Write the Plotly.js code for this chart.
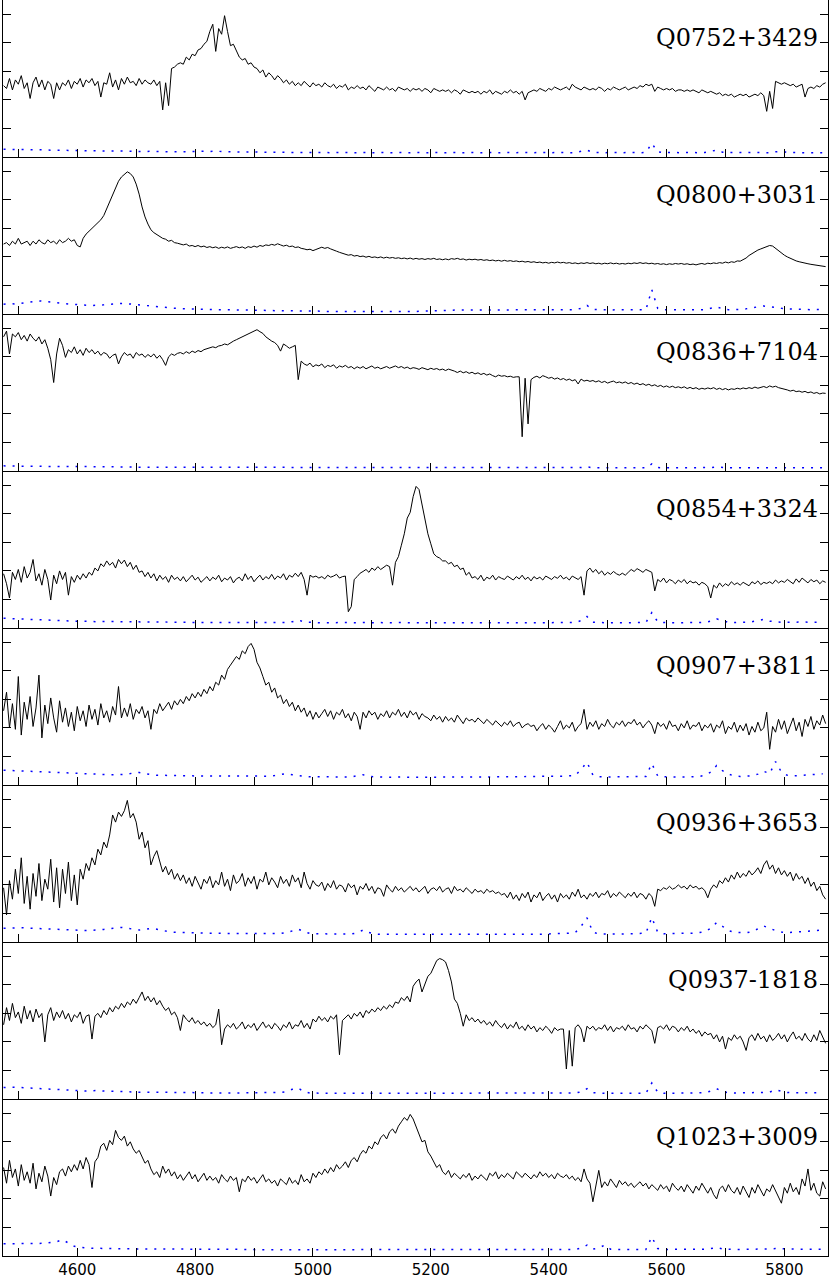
<!DOCTYPE html>
<html>
<head>
<meta charset="utf-8">
<script src="https://cdn.plot.ly/plotly-3.0.1.min.js"></script>
<style>html,body{margin:0;padding:0;background:#fff}</style>
</head>
<body>
<div id="chart" style="width:830px;height:1278px"></div>
<script>
// quasar names, top panel first
var names = ["Q0752+3429", "Q0800+3031", "Q0836+7104", "Q0854+3324",
             "Q0907+3811", "Q0936+3653", "Q0937-1818", "Q1023+3009"];

// flux sampled every 5 A from 4475 A, error spectrum every 10 A
var fluxStart = 4475, fluxStep = 5;
var errStart = 4475, errStep = 10;
var tickWaves = [4600, 4800, 5000, 5200, 5400, 5600, 5800];

var flux0752 = [
 2.50,2.40,2.75,2.35,2.70,2.55,2.85,2.40,2.60,2.05,
 2.60,2.80,2.45,2.70,2.35,2.65,2.55,2.05,2.60,2.35,
 2.60,2.50,2.70,2.40,2.65,2.55,2.75,2.45,2.70,2.60,
 2.75,2.50,2.65,2.10,2.60,2.55,2.95,2.45,2.70,2.35,
 2.75,2.55,2.80,2.60,2.65,2.50,2.75,2.55,2.70,2.60,
 2.55,2.70,2.50,2.65,1.65,2.60,1.80,3.10,3.15,3.25,
 3.30,3.25,3.50,3.40,3.60,3.55,3.75,3.80,3.95,4.05,
 4.40,4.65,3.70,4.50,4.30,4.95,4.40,3.90,3.95,3.70,
 3.50,3.40,3.45,3.25,3.30,3.15,3.10,2.95,3.05,2.80,
 2.95,2.85,2.70,2.85,2.75,2.60,2.70,2.55,2.65,2.50,
 2.60,2.50,2.65,2.55,2.45,2.60,2.50,2.55,2.45,2.60,
 2.50,2.45,2.55,2.40,2.50,2.45,2.55,2.35,2.45,2.40,
 2.50,2.40,2.45,2.35,2.50,2.40,2.30,2.45,2.40,2.35,
 2.45,2.35,2.40,2.30,2.45,2.40,2.35,2.40,2.30,2.40,
 2.35,2.40,2.30,2.40,2.35,2.25,2.40,2.35,2.30,2.35,
 2.30,2.35,2.25,2.35,2.30,2.20,2.35,2.30,2.25,2.30,
 2.25,2.30,2.20,2.30,2.25,2.35,2.20,2.30,2.25,2.20,
 2.30,2.25,2.35,2.25,2.30,2.20,2.30,2.00,2.25,2.30,
 2.35,2.30,2.40,2.35,2.30,2.40,2.35,2.45,2.40,2.35,
 2.40,2.45,2.35,2.55,2.45,2.40,2.35,2.45,2.40,2.35,
 2.40,2.35,2.45,2.40,2.30,2.40,2.35,2.45,2.40,2.35,
 2.40,2.45,2.35,2.40,2.45,2.40,2.50,2.45,2.55,2.50,
 2.55,2.30,2.45,2.40,2.35,2.40,2.35,2.40,2.30,2.35,
 2.35,2.30,2.35,2.30,2.35,2.30,2.25,2.35,2.30,2.25,
 2.30,2.25,2.20,2.25,2.15,2.20,2.15,2.20,2.10,2.15,
 2.20,2.15,2.20,2.10,2.15,2.20,2.15,2.25,2.15,1.60,
 2.30,1.70,2.65,2.60,2.55,2.60,2.55,2.50,2.55,2.45,
 2.50,2.55,2.10,2.40,2.45,2.40,2.50,2.45,2.55,2.60];

var flux0800 = [
 2.45,2.50,2.40,2.55,2.45,2.65,2.45,2.50,2.55,2.40,
 2.55,2.45,2.60,2.50,2.45,2.60,2.50,2.55,2.45,2.60,
 2.50,2.55,2.65,2.55,2.60,2.40,2.35,2.65,2.80,2.90,
 3.00,3.10,3.20,3.30,3.45,3.70,3.95,4.15,4.40,4.65,
 4.80,4.90,4.98,4.92,4.80,4.55,4.20,3.75,3.40,3.15,
 2.95,2.85,2.78,2.70,2.65,2.62,2.55,2.58,2.50,2.48,
 2.45,2.42,2.45,2.38,2.40,2.36,2.40,2.35,2.38,2.33,
 2.36,2.32,2.35,2.30,2.34,2.31,2.35,2.30,2.33,2.36,
 2.32,2.35,2.30,2.36,2.33,2.38,2.34,2.40,2.37,2.42,
 2.40,2.44,2.41,2.46,2.42,2.38,2.41,2.36,2.38,2.33,
 2.35,2.30,2.28,2.25,2.27,2.22,2.26,2.30,2.34,2.30,
 2.33,2.28,2.25,2.20,2.16,2.12,2.09,2.06,2.08,2.03,
 2.05,2.01,2.03,1.99,2.02,1.98,2.00,1.97,2.00,1.96,
 1.99,1.96,1.98,1.95,1.97,1.94,1.96,1.93,1.96,1.92,
 1.95,1.92,1.94,1.91,1.94,1.92,1.95,1.91,1.93,1.90,
 1.93,1.90,1.94,1.92,1.95,1.91,1.93,1.89,1.92,1.90,
 1.92,1.89,1.91,1.88,1.90,1.87,1.89,1.86,1.88,1.85,
 1.88,1.85,1.87,1.84,1.86,1.83,1.85,1.82,1.84,1.81,
 1.83,1.80,1.82,1.79,1.81,1.78,1.81,1.79,1.82,1.79,
 1.81,1.78,1.80,1.77,1.79,1.76,1.79,1.77,1.80,1.77,
 1.79,1.76,1.78,1.75,1.78,1.76,1.79,1.76,1.78,1.75,
 1.77,1.75,1.78,1.76,1.79,1.77,1.80,1.77,1.79,1.76,
 1.78,1.75,1.77,1.74,1.76,1.73,1.76,1.74,1.77,1.75,
 1.77,1.74,1.76,1.73,1.75,1.72,1.75,1.77,1.74,1.78,
 1.76,1.79,1.77,1.80,1.78,1.82,1.79,1.83,1.81,1.86,
 1.85,1.90,1.96,2.05,2.12,2.18,2.24,2.28,2.32,2.36,
 2.40,2.38,2.30,2.22,2.12,2.06,2.00,1.95,1.90,1.86,
 1.83,1.80,1.78,1.76,1.74,1.72,1.70,1.69,1.67,1.66];

var flux0836 = [
 4.70,4.90,4.10,4.80,4.70,4.85,4.60,4.75,4.55,4.80,
 4.65,4.55,4.70,4.45,4.60,4.30,3.90,3.10,4.10,4.65,
 4.40,3.98,4.25,4.15,4.35,4.10,4.25,4.05,4.30,4.15,
 4.25,4.10,4.20,4.05,4.15,4.10,3.95,4.05,4.10,3.75,
 4.00,4.15,4.05,4.10,3.95,4.15,4.05,4.10,3.98,4.08,
 4.00,4.10,3.95,4.05,3.90,3.70,4.00,4.10,4.05,4.12,
 4.15,4.10,4.18,4.12,4.20,4.15,4.22,4.18,4.25,4.28,
 4.30,4.35,4.32,4.38,4.40,4.45,4.42,4.50,4.55,4.60,
 4.65,4.70,4.75,4.80,4.85,4.90,4.95,4.88,4.82,4.70,
 4.62,4.55,4.50,4.40,4.20,4.45,4.38,4.30,4.35,4.40,
 3.20,3.85,3.75,3.70,3.78,3.65,3.72,3.68,3.75,3.62,
 3.70,3.66,3.72,3.60,3.68,3.64,3.70,3.62,3.66,3.58,
 3.65,3.60,3.66,3.58,3.63,3.68,3.60,3.64,3.58,3.62,
 3.66,3.60,3.64,3.68,3.62,3.66,3.60,3.64,3.58,3.62,
 3.60,3.56,3.62,3.58,3.55,3.60,3.56,3.59,3.54,3.57,
 3.52,3.57,3.54,3.50,3.45,3.50,3.44,3.48,3.42,3.46,
 3.40,3.44,3.38,3.42,3.36,3.40,3.34,3.30,3.36,3.32,
 3.34,3.30,3.32,3.28,3.30,3.30,1.20,3.25,1.65,3.20,
 3.28,3.32,3.26,3.34,3.30,3.25,3.28,3.22,3.26,3.20,
 3.24,3.18,3.22,3.16,3.20,3.05,3.22,3.15,3.18,3.14,
 3.17,3.12,3.16,3.10,3.14,3.08,3.12,3.15,3.09,3.12,
 3.08,3.12,3.06,3.10,3.04,3.08,3.02,3.06,3.00,3.04,
 2.98,3.02,2.96,3.00,2.94,2.98,2.93,2.97,2.92,2.95,
 2.91,2.95,2.89,2.93,2.88,2.92,2.86,2.90,2.87,2.91,
 2.88,2.92,2.86,2.90,2.85,2.89,2.84,2.88,2.86,2.90,
 2.87,2.91,2.88,2.92,2.89,2.94,2.90,2.93,2.96,2.92,
 2.98,2.94,2.97,2.92,2.90,2.86,2.84,2.80,2.83,2.78,
 2.80,2.76,2.79,2.74,2.77,2.72,2.75,2.70,2.73,2.72];

var flux0854 = [
 1.90,1.55,1.05,1.95,1.70,2.05,1.60,2.15,1.75,1.95,
 2.40,1.65,1.90,1.50,2.05,1.70,0.98,1.85,1.55,2.00,
 1.70,1.95,1.15,1.80,1.60,1.85,1.70,1.90,1.75,1.95,
 1.85,2.10,2.00,2.25,2.15,2.35,2.20,2.30,2.10,2.40,
 2.25,2.38,2.15,2.30,2.05,2.20,1.95,2.00,1.80,1.95,
 1.75,1.90,1.65,1.85,1.70,1.80,1.60,1.85,1.70,1.78,
 1.65,1.80,1.62,1.75,1.85,1.68,1.78,1.60,1.72,1.80,
 1.65,1.78,1.70,1.85,1.62,1.75,1.68,1.80,1.58,1.72,
 1.78,1.65,1.90,1.70,1.82,1.62,1.75,1.85,1.68,1.80,
 1.72,1.88,1.70,1.82,1.75,1.90,1.68,1.85,1.78,1.92,
 1.80,1.95,1.70,1.15,1.85,1.78,1.82,1.75,1.80,1.72,
 1.85,1.78,1.82,1.88,1.75,1.80,1.82,0.57,0.75,1.70,
 1.80,1.92,1.98,2.05,1.95,2.10,2.02,2.15,2.05,2.12,
 2.20,2.15,1.50,2.30,2.50,2.90,3.30,3.85,4.05,4.60,
 4.96,4.85,4.30,3.75,3.30,2.95,2.60,2.50,2.45,2.35,
 2.35,2.25,2.30,2.15,2.20,2.05,2.10,1.85,1.95,1.75,
 1.80,1.70,1.85,1.65,1.78,1.72,1.85,1.68,1.80,1.74,
 1.70,1.82,1.75,1.68,1.80,1.72,1.85,1.70,1.78,1.65,
 1.80,1.72,1.78,1.68,1.82,1.75,1.70,1.80,1.74,1.85,
 1.72,1.78,1.68,1.82,1.75,1.70,1.80,1.15,2.00,2.10,
 1.95,2.05,1.90,2.00,1.85,1.95,1.88,1.98,1.90,1.85,
 1.92,1.85,1.95,2.05,1.98,2.08,2.02,1.95,2.05,2.00,
 1.95,1.30,1.70,1.62,1.75,1.58,1.70,1.65,1.55,1.68,
 1.60,1.70,1.55,1.65,1.58,1.62,1.50,1.60,1.55,1.45,
 1.05,1.50,1.40,1.58,1.45,1.55,1.48,1.62,1.52,1.58,
 1.50,1.60,1.55,1.48,1.62,1.55,1.65,1.52,1.60,1.56,
 1.62,1.55,1.68,1.58,1.65,1.60,1.70,1.62,1.55,1.72,
 1.60,1.75,1.65,1.58,1.70,1.62,1.68,1.55,1.65,1.60];

var flux0907 = [
 2.60,3.25,2.00,2.85,1.95,3.80,1.75,2.90,2.30,3.10,
 2.05,2.70,3.85,1.65,2.80,2.15,3.05,2.35,1.85,2.95,
 2.20,2.70,2.05,2.55,1.90,2.75,2.25,2.60,2.05,2.80,
 2.30,2.65,2.10,2.85,2.35,2.60,2.20,2.75,2.45,3.45,
 2.35,2.70,2.40,2.85,2.30,2.65,2.50,2.75,2.35,2.60,
 1.95,2.65,2.50,2.85,2.60,2.75,2.90,2.65,2.95,2.80,
 3.00,2.85,3.10,2.95,3.20,3.05,3.25,3.10,3.35,3.20,
 3.45,3.30,3.60,3.50,3.85,3.70,4.05,4.20,4.35,4.50,
 4.40,4.70,4.60,4.85,4.96,4.75,4.30,4.10,3.80,3.50,
 3.60,3.25,3.40,3.05,3.15,2.85,3.00,2.75,2.90,2.60,
 2.80,2.55,2.70,2.40,2.60,2.30,2.55,2.35,2.50,2.65,
 2.40,2.60,2.30,2.55,2.45,2.65,2.35,2.50,2.25,2.55,
 2.40,1.95,2.55,2.35,2.60,2.45,2.55,2.30,2.50,2.40,
 2.60,2.35,2.55,2.45,2.65,2.40,2.55,2.35,2.60,2.45,
 2.55,2.30,2.50,2.40,2.35,2.25,2.45,2.30,2.40,2.20,
 2.40,2.25,2.35,2.20,2.45,2.30,2.15,2.35,2.25,2.30,
 2.20,2.35,2.25,2.15,2.30,2.20,2.10,2.25,2.15,2.05,
 2.20,2.10,2.25,2.05,2.15,2.20,2.00,2.10,2.15,2.05,
 2.10,1.90,2.05,2.15,1.95,2.10,2.00,1.85,2.05,2.25,
 1.95,2.10,2.00,2.20,1.88,2.05,2.15,2.65,1.95,2.20,
 2.05,2.25,1.95,2.15,2.05,2.30,2.10,2.00,2.20,2.10,
 2.25,2.05,2.20,2.15,2.30,2.10,2.20,2.00,2.15,2.25,
 2.10,1.80,2.20,2.05,2.15,1.95,2.25,2.05,2.10,1.90,
 2.15,2.00,2.25,1.95,2.10,2.05,2.20,1.90,2.10,2.00,
 2.15,1.85,2.10,2.00,2.25,1.80,2.05,1.95,2.20,1.85,
 2.10,1.90,2.15,1.75,2.05,1.85,2.20,1.90,2.00,2.55,
 1.25,2.05,1.85,2.30,1.95,2.25,1.80,2.10,2.35,1.90,
 2.20,1.70,2.30,2.05,2.40,1.95,2.25,2.10,2.45,2.15];

var flux0936 = [
 1.90,0.95,2.15,1.50,2.55,1.70,2.95,1.35,2.30,1.15,
 2.40,1.60,2.75,1.45,2.20,1.85,2.90,1.40,2.60,1.20,
 2.55,1.70,2.80,1.45,2.35,1.30,2.55,2.20,2.75,2.50,
 2.95,2.70,3.25,3.05,3.50,3.30,3.75,4.45,4.20,4.55,
 4.40,4.60,4.96,4.35,4.50,4.20,3.60,3.85,3.30,3.55,
 2.70,3.00,3.20,2.85,2.45,2.65,2.35,2.55,2.20,2.40,
 2.15,2.35,2.05,2.25,1.95,2.30,2.10,1.85,2.20,2.05,
 2.30,1.90,2.15,2.00,2.45,1.95,2.20,1.80,2.35,2.05,
 2.15,2.40,1.95,2.25,2.05,2.30,1.85,2.20,2.10,2.45,
 2.00,2.25,2.10,1.90,2.30,2.05,2.20,1.95,2.35,2.10,
 2.25,1.90,2.45,2.05,1.85,2.15,2.00,1.95,2.10,1.80,
 2.05,1.90,2.15,1.85,2.00,1.95,1.75,2.05,1.90,2.00,
 1.65,1.95,1.85,2.05,1.80,1.95,1.70,1.90,1.85,1.60,
 2.00,1.85,1.75,1.95,1.80,1.90,1.75,1.85,1.95,1.80,
 1.90,1.75,1.85,1.95,1.70,1.85,1.90,1.80,1.95,1.75,
 1.85,1.90,1.70,1.95,1.80,1.85,1.75,1.90,1.80,1.70,
 1.85,1.75,1.80,1.70,1.85,1.75,1.80,1.70,1.75,1.65,
 1.70,1.55,1.75,1.50,1.65,1.45,1.70,1.55,1.75,1.40,
 1.65,1.55,1.75,1.45,1.60,1.70,1.50,1.65,1.40,1.70,
 1.55,1.65,1.50,1.75,1.60,1.85,1.55,1.65,1.50,1.70,
 1.60,1.75,1.55,1.70,1.65,1.80,1.55,1.70,1.60,1.75,
 1.65,1.55,1.70,1.60,1.75,1.55,1.70,1.65,1.50,1.70,
 1.60,1.25,1.85,1.80,1.90,1.85,1.95,1.85,1.90,2.00,
 1.90,1.95,1.85,2.00,1.90,1.95,1.85,1.90,1.80,1.55,
 1.85,2.00,1.90,2.15,2.05,2.25,2.10,2.35,2.20,2.45,
 2.25,2.40,2.30,2.50,2.35,2.45,2.60,2.40,2.70,2.85,
 2.55,2.70,2.40,2.60,2.35,2.50,2.30,2.45,2.15,2.40,
 2.20,2.30,2.05,2.25,1.95,2.10,1.80,1.95,1.65,1.50];

var flux0937 = [
 2.60,3.20,2.75,3.35,2.85,3.05,2.65,3.25,2.80,3.10,
 2.70,3.15,2.85,3.00,2.00,2.95,3.20,2.75,3.05,2.85,
 3.10,2.80,3.00,2.70,2.95,2.85,3.05,2.65,2.90,2.95,
 2.10,2.90,3.00,2.85,3.10,2.95,3.20,3.05,3.25,3.15,
 3.35,3.20,3.40,3.30,3.50,3.35,3.55,3.75,3.45,3.60,
 3.40,3.55,3.30,3.45,3.25,3.10,3.20,2.95,3.05,2.85,
 2.40,2.95,2.80,2.70,2.85,2.65,2.75,2.60,2.70,2.55,
 2.65,2.50,2.60,3.15,1.90,2.45,2.60,2.50,2.65,2.45,
 2.55,2.70,2.45,2.60,2.50,2.65,2.40,2.55,2.70,2.50,
 2.60,2.45,2.65,2.55,2.40,2.60,2.50,2.70,2.45,2.60,
 2.55,2.75,2.50,2.65,2.45,2.80,2.70,2.90,2.75,2.85,
 2.70,2.90,2.80,2.95,1.55,2.75,2.85,2.95,2.80,3.00,
 2.90,3.05,2.85,3.10,3.00,3.15,3.05,3.20,3.10,3.25,
 3.15,3.30,3.20,3.40,3.35,3.55,3.45,3.60,3.40,3.95,
 4.10,4.20,3.75,4.00,4.30,4.40,4.60,4.85,4.92,4.88,
 4.80,4.50,4.10,3.50,3.35,3.00,2.55,2.95,2.75,2.85,
 2.70,2.80,2.65,2.75,2.60,2.70,2.55,2.75,2.60,2.50,
 2.65,2.45,2.60,2.50,2.70,2.45,2.55,2.40,2.60,2.45,
 2.55,2.35,2.50,2.40,2.55,2.45,2.30,2.50,2.40,2.45,
 2.45,1.05,2.40,1.15,2.50,2.60,2.45,2.00,2.55,2.45,
 2.55,2.40,2.50,2.45,2.60,2.40,2.55,2.35,2.50,2.45,
 2.55,2.40,2.60,2.45,2.50,2.35,2.55,2.45,2.60,2.50,
 2.40,1.95,2.50,2.55,2.45,2.60,2.40,2.55,2.50,2.35,
 2.50,2.40,2.55,2.35,2.45,2.30,2.40,2.20,2.35,2.25,
 2.30,2.10,2.25,2.00,2.20,1.75,2.15,2.05,2.25,2.10,
 2.20,2.00,1.70,2.15,2.25,2.05,2.30,2.10,2.20,2.00,
 2.25,2.05,2.15,2.30,2.10,2.25,2.00,2.20,2.35,2.10,
 2.20,2.05,2.30,2.10,2.00,2.25,2.05,2.40,2.15,1.95];

var flux1023 = [
 3.10,2.55,3.35,2.75,3.05,2.45,3.20,2.65,2.95,2.55,
 3.25,2.35,2.90,2.60,3.15,2.80,2.10,2.75,2.50,2.95,
 3.05,2.80,3.15,2.95,3.20,3.00,3.35,3.05,3.45,3.20,
 2.40,3.30,3.45,3.85,3.95,3.70,4.05,3.90,4.40,4.15,
 4.05,4.20,3.85,4.00,3.75,3.60,3.70,3.45,3.25,3.35,
 3.05,2.85,2.95,2.75,3.15,2.90,3.05,2.80,2.95,2.70,
 2.85,2.65,2.80,2.95,2.70,2.85,2.60,2.75,2.90,2.65,
 2.80,2.65,2.75,2.55,2.85,2.70,2.60,2.80,2.65,2.75,
 2.25,2.70,2.60,2.80,2.65,2.75,2.55,2.70,2.85,2.60,
 2.70,2.55,2.65,2.45,2.70,2.60,2.50,2.75,2.55,2.65,
 2.50,2.85,2.60,2.70,2.55,2.90,2.75,2.95,2.85,3.05,
 2.90,3.10,2.95,3.20,3.05,3.15,3.30,3.10,3.35,3.45,
 3.30,3.55,3.70,3.60,3.85,3.75,4.00,3.90,4.15,4.25,
 4.10,4.35,4.45,4.30,4.55,4.70,4.85,4.75,4.96,4.80,
 4.55,4.30,4.00,4.05,3.65,3.50,3.30,3.10,3.20,2.95,
 2.85,3.00,2.75,2.90,2.80,2.70,2.85,2.75,2.90,2.65,
 2.80,2.70,2.85,2.75,2.65,2.90,2.80,2.95,2.70,2.85,
 2.75,2.90,2.80,2.70,2.95,2.85,2.75,2.90,2.80,2.70,
 2.85,2.75,2.95,2.80,2.90,2.75,2.85,2.70,2.90,2.80,
 2.75,2.85,2.70,2.80,2.65,2.75,2.60,3.05,2.70,2.55,
 1.90,2.50,3.00,2.40,2.60,2.45,2.70,2.55,2.40,2.65,
 2.50,2.60,2.45,2.55,2.40,2.50,2.60,2.45,2.55,2.35,
 2.50,2.40,2.30,2.50,2.35,2.45,2.25,2.55,2.40,2.30,
 2.45,2.25,2.50,2.35,2.20,2.45,2.30,2.55,2.35,2.20,
 2.40,2.15,2.00,2.35,2.45,2.25,2.50,2.30,2.20,2.40,
 2.15,2.45,2.25,2.05,2.40,2.20,2.50,2.30,2.10,2.35,
 2.25,2.50,2.30,2.05,1.85,2.40,2.20,2.55,2.25,2.40,
 2.15,2.70,2.45,3.05,2.30,2.55,2.20,2.10,2.60,2.35];

var err0752 = [
 0.27,0.27,0.26,0.27,0.26,0.25,0.26,0.25,0.24,0.25,
 0.24,0.23,0.24,0.23,0.22,0.23,0.22,0.21,0.22,0.21,
 0.21,0.20,0.21,0.20,0.19,0.20,0.19,0.18,0.19,0.18,
 0.18,0.19,0.18,0.19,0.20,0.19,0.21,0.19,0.18,0.19,
 0.18,0.17,0.18,0.17,0.17,0.16,0.17,0.16,0.17,0.16,
 0.16,0.17,0.16,0.16,0.15,0.16,0.15,0.16,0.15,0.16,
 0.15,0.16,0.15,0.15,0.16,0.15,0.15,0.16,0.15,0.15,
 0.16,0.15,0.15,0.16,0.15,0.15,0.16,0.15,0.15,0.16,
 0.15,0.15,0.16,0.15,0.15,0.16,0.15,0.15,0.16,0.15,
 0.15,0.16,0.15,0.15,0.16,0.15,0.16,0.15,0.20,0.24,
 0.16,0.15,0.15,0.16,0.15,0.15,0.16,0.15,0.15,0.16,
 0.48,0.18,0.15,0.16,0.15,0.15,0.16,0.15,0.15,0.16,
 0.20,0.24,0.17,0.15,0.16,0.15,0.15,0.16,0.15,0.16,
 0.15,0.18,0.20,0.16,0.15,0.16,0.15,0.15,0.16,0.15];

var err0800 = [
 0.34,0.36,0.35,0.38,0.40,0.42,0.46,0.44,0.41,0.39,
 0.37,0.35,0.33,0.32,0.31,0.30,0.30,0.32,0.34,0.36,
 0.37,0.36,0.34,0.31,0.28,0.26,0.24,0.22,0.21,0.20,
 0.19,0.18,0.17,0.17,0.16,0.16,0.15,0.15,0.15,0.14,
 0.14,0.14,0.13,0.13,0.13,0.12,0.12,0.12,0.11,0.11,
 0.11,0.11,0.10,0.10,0.10,0.09,0.09,0.08,0.08,0.08,
 0.07,0.07,0.07,0.07,0.07,0.07,0.07,0.07,0.08,0.08,
 0.09,0.10,0.11,0.12,0.13,0.13,0.14,0.14,0.14,0.14,
 0.14,0.14,0.14,0.15,0.15,0.14,0.14,0.15,0.15,0.15,
 0.15,0.15,0.14,0.15,0.15,0.14,0.15,0.15,0.20,0.30,
 0.16,0.15,0.15,0.14,0.15,0.15,0.14,0.15,0.15,0.15,
 0.85,0.20,0.15,0.15,0.14,0.15,0.15,0.14,0.15,0.15,
 0.20,0.25,0.18,0.15,0.15,0.16,0.18,0.22,0.26,0.28,
 0.26,0.22,0.20,0.18,0.17,0.16,0.16,0.15,0.16,0.15];

var err0836 = [
 0.18,0.17,0.18,0.17,0.17,0.18,0.17,0.16,0.17,0.16,
 0.16,0.16,0.15,0.16,0.15,0.15,0.15,0.14,0.15,0.14,
 0.14,0.14,0.14,0.13,0.14,0.13,0.13,0.13,0.13,0.13,
 0.13,0.12,0.13,0.12,0.12,0.12,0.12,0.12,0.12,0.12,
 0.12,0.12,0.11,0.12,0.11,0.11,0.12,0.11,0.11,0.11,
 0.11,0.11,0.11,0.11,0.11,0.11,0.11,0.11,0.11,0.11,
 0.11,0.11,0.11,0.11,0.11,0.11,0.11,0.11,0.11,0.11,
 0.11,0.11,0.11,0.11,0.11,0.11,0.11,0.11,0.11,0.11,
 0.11,0.11,0.11,0.11,0.11,0.11,0.11,0.11,0.11,0.11,
 0.11,0.11,0.11,0.11,0.11,0.11,0.11,0.11,0.12,0.15,
 0.11,0.11,0.11,0.11,0.11,0.11,0.11,0.11,0.11,0.11,
 0.25,0.12,0.11,0.11,0.11,0.11,0.11,0.11,0.11,0.11,
 0.12,0.14,0.12,0.11,0.11,0.11,0.11,0.11,0.11,0.11,
 0.11,0.12,0.11,0.11,0.11,0.11,0.11,0.11,0.11,0.11];

var err0854 = [
 0.34,0.33,0.32,0.31,0.30,0.29,0.28,0.27,0.27,0.26,
 0.25,0.25,0.24,0.24,0.23,0.23,0.22,0.23,0.24,0.23,
 0.22,0.22,0.21,0.21,0.21,0.20,0.20,0.20,0.20,0.20,
 0.20,0.20,0.19,0.20,0.19,0.19,0.20,0.19,0.19,0.19,
 0.19,0.19,0.19,0.18,0.19,0.19,0.18,0.19,0.19,0.22,
 0.28,0.21,0.19,0.19,0.18,0.19,0.18,0.19,0.19,0.18,
 0.18,0.19,0.18,0.18,0.19,0.18,0.18,0.19,0.18,0.18,
 0.18,0.18,0.19,0.18,0.18,0.18,0.19,0.18,0.18,0.18,
 0.18,0.19,0.18,0.18,0.18,0.19,0.18,0.18,0.19,0.18,
 0.18,0.18,0.19,0.18,0.18,0.19,0.18,0.19,0.26,0.40,
 0.20,0.19,0.18,0.18,0.19,0.18,0.18,0.19,0.18,0.19,
 0.54,0.22,0.19,0.18,0.19,0.18,0.19,0.18,0.19,0.20,
 0.24,0.32,0.25,0.20,0.19,0.19,0.20,0.22,0.26,0.30,
 0.24,0.21,0.20,0.20,0.21,0.20,0.21,0.20,0.21,0.21];

var err0907 = [
 0.52,0.51,0.50,0.49,0.48,0.47,0.46,0.45,0.44,0.43,
 0.42,0.41,0.40,0.39,0.38,0.38,0.37,0.37,0.36,0.36,
 0.36,0.38,0.42,0.44,0.40,0.36,0.34,0.34,0.33,0.33,
 0.33,0.32,0.32,0.32,0.32,0.31,0.31,0.31,0.31,0.31,
 0.31,0.30,0.30,0.30,0.30,0.31,0.33,0.36,0.40,0.36,
 0.32,0.30,0.29,0.29,0.29,0.28,0.29,0.28,0.29,0.28,
 0.33,0.36,0.30,0.28,0.28,0.27,0.28,0.27,0.28,0.27,
 0.27,0.28,0.27,0.27,0.28,0.27,0.27,0.28,0.27,0.27,
 0.28,0.27,0.27,0.28,0.27,0.28,0.28,0.29,0.29,0.30,
 0.30,0.29,0.30,0.30,0.31,0.31,0.32,0.33,0.55,0.80,
 0.35,0.29,0.28,0.28,0.28,0.28,0.28,0.28,0.29,0.30,
 0.75,0.32,0.29,0.28,0.28,0.28,0.28,0.29,0.30,0.34,
 0.45,0.68,0.50,0.38,0.32,0.30,0.30,0.32,0.38,0.48,
 0.40,0.82,0.45,0.34,0.32,0.33,0.34,0.35,0.37,0.39];

var err0936 = [
 0.48,0.49,0.50,0.50,0.49,0.48,0.47,0.46,0.44,0.43,
 0.42,0.41,0.40,0.40,0.40,0.41,0.42,0.44,0.47,0.50,
 0.51,0.48,0.45,0.42,0.44,0.48,0.45,0.40,0.36,0.34,
 0.33,0.32,0.32,0.31,0.31,0.31,0.30,0.30,0.30,0.30,
 0.30,0.30,0.29,0.29,0.29,0.29,0.29,0.30,0.33,0.40,
 0.45,0.36,0.30,0.29,0.28,0.28,0.28,0.28,0.28,0.28,
 0.32,0.42,0.33,0.28,0.27,0.27,0.27,0.26,0.26,0.26,
 0.26,0.26,0.25,0.25,0.25,0.25,0.25,0.25,0.25,0.25,
 0.25,0.25,0.25,0.25,0.25,0.25,0.25,0.26,0.26,0.27,
 0.27,0.27,0.28,0.28,0.29,0.30,0.31,0.33,0.55,0.85,
 0.35,0.28,0.28,0.27,0.28,0.28,0.29,0.29,0.30,0.31,
 0.86,0.34,0.29,0.29,0.29,0.30,0.30,0.31,0.33,0.36,
 0.48,0.68,0.55,0.40,0.34,0.32,0.32,0.36,0.45,0.56,
 0.48,0.40,0.35,0.33,0.34,0.35,0.36,0.38,0.40,0.43];

var err0937 = [
 0.40,0.42,0.41,0.40,0.38,0.37,0.36,0.34,0.33,0.32,
 0.31,0.30,0.29,0.28,0.28,0.29,0.30,0.28,0.27,0.26,
 0.26,0.25,0.25,0.24,0.24,0.24,0.23,0.23,0.23,0.22,
 0.22,0.22,0.22,0.22,0.22,0.21,0.22,0.21,0.21,0.21,
 0.21,0.21,0.21,0.21,0.21,0.21,0.22,0.23,0.26,0.34,
 0.38,0.25,0.21,0.20,0.20,0.20,0.20,0.20,0.20,0.20,
 0.20,0.20,0.20,0.20,0.20,0.20,0.20,0.20,0.20,0.20,
 0.20,0.20,0.20,0.20,0.20,0.20,0.20,0.20,0.20,0.20,
 0.20,0.20,0.20,0.20,0.20,0.20,0.20,0.20,0.20,0.20,
 0.20,0.20,0.20,0.20,0.20,0.20,0.20,0.21,0.25,0.36,
 0.22,0.20,0.20,0.20,0.20,0.20,0.20,0.20,0.20,0.20,
 0.56,0.24,0.20,0.20,0.20,0.20,0.20,0.20,0.21,0.22,
 0.28,0.36,0.26,0.22,0.21,0.21,0.21,0.22,0.22,0.23,
 0.24,0.32,0.27,0.23,0.22,0.22,0.22,0.22,0.22,0.22];

var err1023 = [
 0.43,0.43,0.42,0.43,0.42,0.43,0.44,0.45,0.47,0.50,
 0.57,0.45,0.34,0.30,0.28,0.27,0.27,0.26,0.26,0.25,
 0.25,0.25,0.25,0.24,0.24,0.24,0.24,0.24,0.24,0.24,
 0.24,0.23,0.23,0.23,0.23,0.23,0.24,0.23,0.23,0.23,
 0.23,0.23,0.23,0.22,0.22,0.22,0.23,0.22,0.22,0.22,
 0.22,0.22,0.22,0.22,0.22,0.22,0.22,0.22,0.22,0.22,
 0.22,0.22,0.22,0.22,0.22,0.22,0.22,0.22,0.22,0.22,
 0.22,0.22,0.22,0.22,0.22,0.22,0.22,0.22,0.22,0.22,
 0.22,0.22,0.22,0.22,0.22,0.22,0.22,0.22,0.22,0.22,
 0.22,0.22,0.22,0.22,0.22,0.22,0.23,0.23,0.28,0.38,
 0.24,0.28,0.38,0.24,0.23,0.23,0.23,0.23,0.23,0.23,
 0.67,0.26,0.23,0.23,0.23,0.23,0.23,0.23,0.23,0.24,
 0.26,0.30,0.25,0.23,0.23,0.23,0.23,0.24,0.24,0.25,
 0.25,0.26,0.25,0.24,0.24,0.24,0.24,0.24,0.24,0.24];

var fluxes = [flux0752, flux0800, flux0836, flux0854, flux0907, flux0936, flux0937, flux1023];
var errors = [err0752, err0800, err0836, err0854, err0907, err0936, err0937, err1023];

function waveGrid(start, step, n) {
  var w = [];
  for (var i = 0; i < n; i++) w.push(start + i * step);
  return w;
}

var nPanels = names.length;
var traces = [];
var layout = {
  width: 830,
  height: 1278,
  // 1256 px of plot area -> 157 px per panel
  margin: {l: 3, r: 2, t: 0, b: 22},
  paper_bgcolor: "white",
  plot_bgcolor: "white",
  showlegend: false,
  annotations: []
};

var tickStyle = {
  ticks: "inside", ticklen: 8, tickwidth: 1, tickcolor: "black",
  minor: {dtick: 100, tick0: 4500, ticks: "inside", ticklen: 8, tickwidth: 1, tickcolor: "black"}
};

for (var p = 0; p < nPanels; p++) {
  var sfx = p === 0 ? "" : String(p + 1);
  var xName = "x" + sfx, yName = "y" + sfx;

  // flux spectrum
  traces.push({
    x: waveGrid(fluxStart, fluxStep, fluxes[p].length),
    y: fluxes[p],
    xaxis: xName, yaxis: yName,
    type: "scatter", mode: "lines",
    line: {color: "black", width: 1},
    hoverinfo: "skip"
  });
  // 1-sigma error spectrum, dotted blue
  traces.push({
    x: waveGrid(errStart, errStep, errors[p].length),
    y: errors[p],
    xaxis: xName, yaxis: yName,
    type: "scatter", mode: "lines",
    line: {color: "#0000ff", width: 1.5, dash: "2px,7px"},
    hoverinfo: "skip"
  });

  var bottom = p === nPanels - 1;
  // bottom edge: line + ticks (labels only on the last panel)
  layout["xaxis" + sfx] = Object.assign({
    anchor: yName,
    matches: p === 0 ? undefined : "x",
    range: [4474, 5874],
    tickmode: "array",
    tickvals: tickWaves,
    ticktext: tickWaves.map(String),
    showticklabels: bottom,
    ticklabelstandoff: 0,
    tickfont: {family: "DejaVu Sans", size: 15, color: "black"},
    showline: true, linecolor: "black", linewidth: 1, mirror: false,
    showgrid: false, zeroline: false
  }, tickStyle);
  // top edge: ticks only, so shared panel borders are drawn once
  layout["xaxis" + (nPanels + p + 1)] = Object.assign({
    anchor: yName,
    overlaying: xName,
    side: "top",
    matches: "x",
    tickmode: "array",
    tickvals: tickWaves,
    showticklabels: false,
    showline: p === 0, linecolor: "black", linewidth: 1,
    showgrid: false, zeroline: false
  }, tickStyle);

  layout["yaxis" + sfx] = {
    anchor: xName,
    domain: [(nPanels - 1 - p) / nPanels, (nPanels - p) / nPanels],
    range: [0, 5.5],
    tick0: 0, dtick: 1,
    ticks: "inside", ticklen: 8, tickwidth: 1, tickcolor: "black",
    showticklabels: false,
    showline: true, linecolor: "black", linewidth: 1, mirror: "ticks",
    showgrid: false, zeroline: false
  };

  layout.annotations.push({
    text: names[p],
    xref: "paper", x: 1, xanchor: "right", xshift: -8,
    yref: yName + " domain", y: 1, yanchor: "top", yshift: -22,
    showarrow: false,
    font: {family: "DejaVu Serif", size: 24, color: "black"}
  });
}

Plotly.newPlot("chart", traces, layout, {staticPlot: true});
</script>
</body>
</html>
